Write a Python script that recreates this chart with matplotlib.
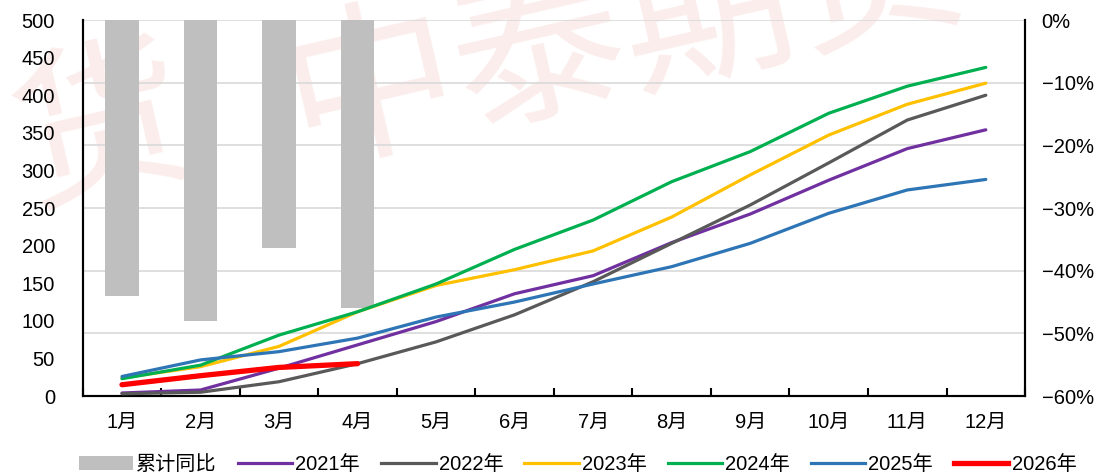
import matplotlib
matplotlib.use("Agg")
import matplotlib.pyplot as plt
import numpy as np
from matplotlib.patches import Patch
from matplotlib.lines import Line2D

plt.rcParams['font.family'] = ['Liberation Sans', 'Noto Sans CJK SC', 'DejaVu Sans']
plt.rcParams['axes.unicode_minus'] = True

months = ["1月", "2月", "3月", "4月", "5月", "6月", "7月", "8月", "9月", "10月", "11月", "12月"]

# cumulative year-on-year change (right axis, %)
yoy_pct = [-44.0, -48.0, -36.4, -46.0]

# cumulative volumes by year (left axis)
s2021 = [4, 8, 37, 68, 99, 136, 160, 204, 242, 287, 329, 354]
s2022 = [3, 5, 19, 43, 72, 108, 152, 203, 254, 310, 367, 400]
s2023 = [24, 39, 66, 112, 147, 168, 193, 238, 294, 347, 388, 416]
s2024 = [23, 41, 81, 112, 149, 195, 234, 285, 325, 376, 412, 437]
s2025 = [26, 48, 59, 77, 105, 125, 149, 172, 203, 243, 274, 288]
s2026 = [15, 27, 38, 43]

series = [
    ("2021年", s2021, "#7030A0", 2.3),
    ("2022年", s2022, "#595959", 2.3),
    ("2023年", s2023, "#FFC000", 2.3),
    ("2024年", s2024, "#00B050", 2.3),
    ("2025年", s2025, "#2E75B6", 2.3),
    ("2026年", s2026, "#FF0000", 3.8),
]
bar_label = "累计同比"
bar_color = "#BFBFBF"

fig = plt.figure(figsize=(10.94, 4.72), dpi=100)

# faint watermark behind everything
wm_kw = dict(fontsize=124, color="#FBEDEB", rotation=13, zorder=-5,
             ha="center", va="center", family=['Noto Sans CJK SC'])
fig.text(0.092, 0.72, "货", **wm_kw)
fig.text(0.57, 0.93, "中泰期货", **wm_kw)

ax_pct = fig.add_axes([0.0756, 0.161, 0.8614, 0.7966])
ax_pct.set_facecolor("none")
x = np.arange(len(months))

ax_pct.bar(x[:len(yoy_pct)], yoy_pct, width=0.43, color=bar_color, zorder=2)
ax_pct.set_ylim(-60, 0)
ax_pct.set_yticks(np.arange(-60, 1, 10))


def pct_fmt(v, pos):
    n = int(round(v))
    return f"\u2212{abs(n)}%" if n < 0 else f"{n}%"


ax_pct.yaxis.set_major_formatter(plt.FuncFormatter(pct_fmt))
ax_pct.yaxis.grid(True, color="#D9D9D9", linewidth=1.2, zorder=0)
ax_pct.set_axisbelow(True)

ax_val = ax_pct.twinx()
ax_val.set_facecolor("none")
for label, vals, color, lw in series:
    ax_val.plot(x[:len(vals)], vals, color=color, linewidth=lw, label=label,
                solid_capstyle="round", zorder=3)
ax_val.set_ylim(0, 500)
ax_val.set_yticks(np.arange(0, 501, 50))

# value axis on the left, percentage axis on the right
ax_val.tick_params(axis="y", which="both", left=True, right=False,
                   labelleft=True, labelright=False,
                   direction="in", length=0, pad=20, labelsize=14.5)
ax_pct.tick_params(axis="y", which="both", left=False, right=True,
                   labelleft=False, labelright=True,
                   direction="in", length=0, pad=12, labelsize=14.5)

for a in (ax_pct, ax_val):
    a.set_xlim(-0.5, len(months) - 0.5)
    a.spines["top"].set_visible(False)
    for s in ("left", "right", "bottom"):
        a.spines[s].set_linewidth(1.5)
        a.spines[s].set_color("black")

ax_pct.set_xticks(x)
ax_pct.set_xticklabels(months)
ax_pct.set_xticks(np.arange(-0.5, len(months), 1), minor=True)
ax_pct.tick_params(axis="x", which="major", length=0, pad=12, labelsize=14.5)
ax_pct.tick_params(axis="x", which="minor", direction="in", length=6, width=1.5)

handles = [Patch(facecolor=bar_color, label=bar_label)]
handles += [Line2D([0], [0], color=c, linewidth=lw, label=l) for l, _, c, lw in series]
fig.legend(handles=handles, loc="lower center", bbox_to_anchor=(0.528, -0.042),
           ncol=7, frameon=False, fontsize=14.5, handlelength=2.7,
           handletextpad=0.15, columnspacing=1.05)

fig.savefig("out.png", dpi=100)
